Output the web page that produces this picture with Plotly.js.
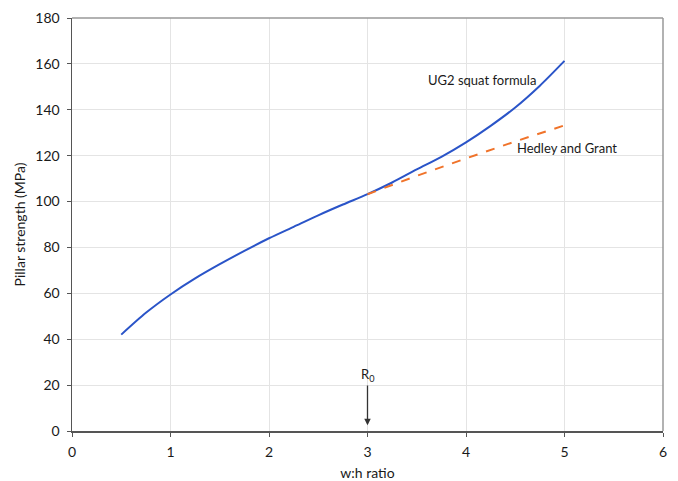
<!DOCTYPE html>
<html>
<head>
<meta charset="utf-8">
<script src="https://cdn.plot.ly/plotly-3.0.1.min.js"></script>
<style>html,body{margin:0;padding:0;background:#fff;}#chart{width:678px;height:481px;}</style>
</head>
<body>
<div id="chart"></div>
<script>
const ug2X = [0.5, 0.75, 1, 1.25, 1.5, 1.75, 2, 2.25, 2.5, 2.75, 3, 3.25, 3.5, 3.75, 4, 4.25, 4.5, 4.75, 5];
const ug2Y = [42, 51.5, 59.5, 66.5, 72.7, 78.5, 84, 89, 94, 98.7, 103.2, 108.3, 114, 119.5, 125.8, 133, 141, 150.5, 161.3];
const hgX = [3, 3.5, 4, 4.5, 5];
const hgY = [103.2, 111.2, 118.8, 126.2, 133.2];
const xTicks = [0, 1, 2, 3, 4, 5, 6];
const yTicks = [0, 20, 40, 60, 80, 100, 120, 140, 160, 180];

const font = "Lato, 'Open Sans', sans-serif";
const data = [
  {x: ug2X, y: ug2Y, mode: 'lines', line: {color: '#2a54c8', width: 2, shape: 'spline', smoothing: 0.8}, name: 'UG2 squat formula'},
  {x: hgX, y: hgY, mode: 'lines', line: {color: '#f0732a', width: 2, dash: 'dash'}, name: 'Hedley and Grant'}
];
const layout = {
  width: 678, height: 481,
  margin: {l: 72, r: 15, t: 18, b: 50},
  showlegend: false,
  paper_bgcolor: '#fff', plot_bgcolor: '#fff',
  font: {family: font, size: 14, color: '#1a1a1a'},
  xaxis: {
    range: [0, 6], tickvals: xTicks, ticktext: xTicks.map(String),
    showgrid: true, gridcolor: '#e4e4e4', zeroline: false,
    showline: true, linecolor: '#555', linewidth: 1.5, mirror: false,
    ticks: 'outside', ticklen: 4, tickcolor: '#555', ticklabelstandoff: 4,
    title: {text: 'w:h ratio', font: {size: 14}, standoff: 10}
  },
  yaxis: {
    range: [0, 180], tickvals: yTicks, ticktext: yTicks.map(String),
    showgrid: true, gridcolor: '#e4e4e4', zeroline: false,
    showline: true, linecolor: '#555', linewidth: 1.5,
    ticks: 'outside', ticklen: 4, tickcolor: '#555', ticklabelstandoff: 4,
    title: {text: 'Pillar strength (MPa)', font: {size: 14}, standoff: 6}
  },
  shapes: [
    {type: 'line', xref: 'paper', yref: 'paper', x0: 0, x1: 1, y0: 1, y1: 1, line: {color: '#999', width: 1.5}},
    {type: 'line', xref: 'paper', yref: 'paper', x0: 1, x1: 1, y0: 0, y1: 1, line: {color: '#999', width: 1.5}}
  ],
  annotations: [
    {x: 4.16, y: 153, xref: 'x', yref: 'y', text: 'UG2 squat formula', showarrow: false, xanchor: 'center', font: {size: 13, color: '#1a1a1a'}},
    {x: 5.03, y: 123.5, xref: 'x', yref: 'y', text: 'Hedley and Grant', showarrow: false, xanchor: 'center', font: {size: 13, color: '#1a1a1a'}},
    {x: 3, y: 24.5, xref: 'x', yref: 'y', text: 'R<sub>0</sub>', showarrow: false, font: {size: 13, color: '#1a1a1a'}},
    {x: 3, y: 2.5, xref: 'x', yref: 'y', ax: 3, ay: 20.5, axref: 'x', ayref: 'y', text: '', showarrow: true, arrowhead: 2, arrowsize: 1, arrowwidth: 1.3, arrowcolor: '#333'}
  ]
};
Plotly.newPlot('chart', data, layout, {displayModeBar: false, staticPlot: true});
</script>
</body>
</html>
